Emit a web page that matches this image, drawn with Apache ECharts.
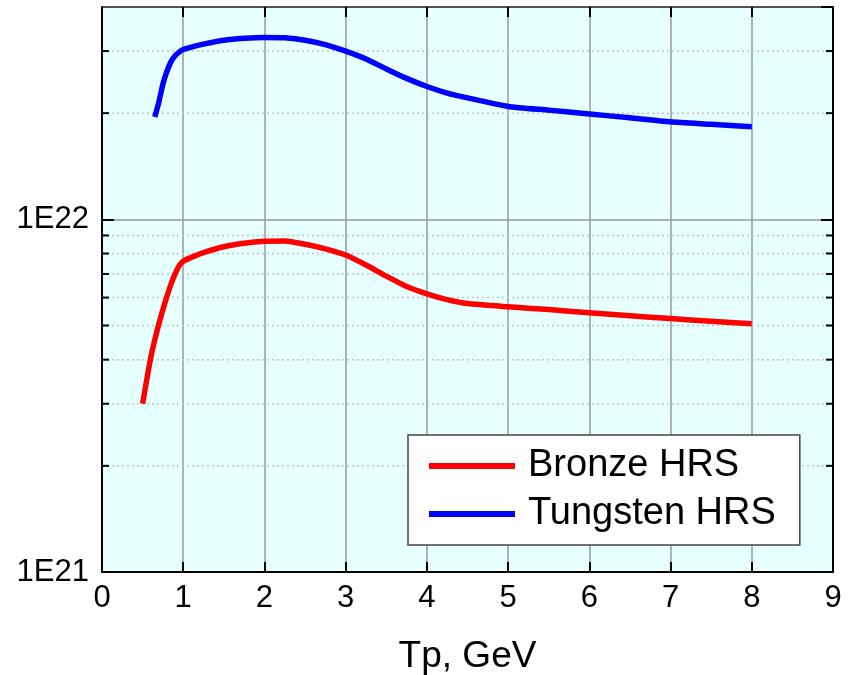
<!DOCTYPE html>
<html>
<head>
<meta charset="utf-8">
<script src="https://cdn.jsdelivr.net/npm/echarts@6/dist/echarts.min.js"></script>
<style>
html,body{margin:0;padding:0;background:#fff;}
#chart{width:851px;height:675px;}
</style>
</head>
<body>
<div id="chart"></div>
<script>
// ---- data ----
const seriesNames = ['Bronze HRS', 'Tungsten HRS'];
const bronzeX = [0.5, 0.55, 0.6, 0.65, 0.7, 0.75, 0.8, 0.85, 0.9, 0.95, 1.0, 1.1, 1.25, 1.5, 1.75, 2.0, 2.25, 2.5, 2.75, 3.0, 3.25, 3.5, 3.75, 4.0, 4.25, 4.5, 5.0, 5.5, 6.0, 6.5, 7.0, 7.5, 8.0];
const bronzeY = [3.0e21, 3.5e21, 4.05e21, 4.55e21, 5.05e21, 5.55e21, 6.05e21, 6.55e21, 7.0e21, 7.38e21, 7.6e21, 7.8e21, 8.05e21, 8.36e21, 8.55e21, 8.66e21, 8.68e21, 8.5e21, 8.25e21, 7.92e21, 7.42e21, 6.9e21, 6.45e21, 6.15e21, 5.92e21, 5.77e21, 5.65e21, 5.55e21, 5.43e21, 5.33e21, 5.23e21, 5.14e21, 5.06e21];
const tungstenX = [0.65, 0.7, 0.75, 0.8, 0.85, 0.9, 0.95, 1.0, 1.1, 1.25, 1.5, 1.75, 2.0, 2.25, 2.5, 2.75, 3.0, 3.25, 3.5, 3.75, 4.0, 4.25, 4.5, 5.0, 5.5, 6.0, 6.5, 7.0, 7.5, 8.0];
const tungstenY = [1.95e22, 2.15e22, 2.42e22, 2.63e22, 2.8e22, 2.91e22, 2.98e22, 3.03e22, 3.08e22, 3.14e22, 3.22e22, 3.26e22, 3.28e22, 3.27e22, 3.22e22, 3.13e22, 3.0e22, 2.85e22, 2.67e22, 2.51e22, 2.38e22, 2.28e22, 2.21e22, 2.09e22, 2.04e22, 1.99e22, 1.94e22, 1.89e22, 1.86e22, 1.83e22];
const xMin = 0, xMax = 9, xInterval = 1;
const yMin = 1e21, yMax = 4e22;
const minorTicks = [2e21, 3e21, 4e21, 5e21, 6e21, 7e21, 8e21, 9e21, 2e22, 3e22];
const xTitle = 'Tp, GeV';

const FONT = '"Liberation Sans", Arial, sans-serif';
const zip = (xs, ys) => xs.map((x, i) => [x, ys[i]]);

const chart = echarts.init(document.getElementById('chart'), null, {renderer: 'canvas'});

function yLabel(v) {
  const e = Math.log10(v);
  if (Math.abs(e - Math.round(e)) < 1e-6) return '1E' + Math.round(e);
  return '';
}

const option = {
  backgroundColor: '#ffffff',
  animation: false,
  textStyle: {fontFamily: FONT},
  grid: {
    left: 102, right: 18, top: 7, bottom: 103,
    containLabel: false,
    outerBoundsMode: 'none',
    show: true, backgroundColor: '#E6FFFF', borderWidth: 0
  },
  legend: {
    data: seriesNames,
    orient: 'vertical',
    left: 408, top: 435,
    icon: 'rect',
    itemWidth: 86, itemHeight: 6, itemGap: 10,
    padding: [12, 24, 12, 21],
    backgroundColor: '#ffffff',
    borderColor: '#444', borderWidth: 1.5,
    textStyle: {fontSize: 38, color: '#000', fontFamily: FONT, padding: [0, 0, 0, 8]}
  },
  xAxis: [{
    type: 'value', min: xMin, max: xMax, interval: xInterval, position: 'bottom',
    name: xTitle, nameLocation: 'middle', nameGap: 66,
    nameTextStyle: {fontSize: 37, color: '#000', fontFamily: FONT},
    axisLine: {show: true, onZero: false, lineStyle: {color: '#000', width: 2}},
    axisTick: {show: true, inside: true, length: 10, lineStyle: {color: '#000', width: 2}},
    axisLabel: {fontSize: 31, color: '#000', margin: 11, fontFamily: FONT},
    splitLine: {show: true, lineStyle: {color: '#9a9a9a', width: 1.5}}
  }, {
    type: 'value', min: xMin, max: xMax, interval: xInterval, position: 'top',
    axisLine: {show: true, onZero: false, lineStyle: {color: '#333', width: 1.5}},
    axisTick: {show: true, inside: true, length: 10, lineStyle: {color: '#000', width: 2}},
    axisLabel: {show: false},
    splitLine: {show: false}
  }],
  yAxis: [{
    type: 'log', logBase: 10, min: yMin, max: yMax, position: 'left',
    axisLine: {show: true, onZero: false, lineStyle: {color: '#000', width: 2}},
    axisTick: {show: true, inside: true, length: 12, lineStyle: {color: '#000', width: 2}},
    axisLabel: {fontSize: 31, color: '#000', margin: 13, fontFamily: FONT, formatter: yLabel, showMaxLabel: false},
    splitLine: {show: true, lineStyle: {color: '#9a9a9a', width: 1.5}}
  }, {
    type: 'log', logBase: 10, min: yMin, max: yMax, position: 'right',
    axisLine: {show: true, onZero: false, lineStyle: {color: '#000', width: 2}},
    axisTick: {show: true, inside: true, length: 12, lineStyle: {color: '#000', width: 2}},
    axisLabel: {show: false},
    splitLine: {show: false}
  }],
  series: [{
    type: 'custom',
    name: 'minor',
    silent: true,
    xAxisIndex: 0, yAxisIndex: 0,
    z: 1,
    data: minorTicks.map(v => [xMin, v]),
    renderItem: function (params, api) {
      const v = api.value(1);
      const p0 = api.coord([xMin, v]);
      const p1 = api.coord([xMax, v]);
      return {
        type: 'group',
        children: [
          {type: 'line', shape: {x1: p0[0], y1: p0[1], x2: p1[0], y2: p1[1]},
            style: {stroke: '#c4c4c4', lineWidth: 1.5, lineDash: [2, 3]}},
          {type: 'line', shape: {x1: p0[0], y1: p0[1], x2: p0[0] + 7, y2: p0[1]},
            style: {stroke: '#000', lineWidth: 2}},
          {type: 'line', shape: {x1: p1[0] - 7, y1: p1[1], x2: p1[0], y2: p1[1]},
            style: {stroke: '#000', lineWidth: 2}}
        ]
      };
    }
  }, {
    type: 'line', name: seriesNames[0],
    data: zip(bronzeX, bronzeY),
    showSymbol: false, symbol: 'none',
    smooth: 0.2,
    color: '#ff0000',
    lineStyle: {color: '#ff0000', width: 5.5, join: 'round', cap: 'butt'},
    z: 3
  }, {
    type: 'line', name: seriesNames[1],
    data: zip(tungstenX, tungstenY),
    showSymbol: false, symbol: 'none',
    smooth: 0.2,
    color: '#0000ff',
    lineStyle: {color: '#0000ff', width: 5.5, join: 'round', cap: 'butt'},
    z: 3
  }]
};
chart.setOption(option);
</script>
</body>
</html>
